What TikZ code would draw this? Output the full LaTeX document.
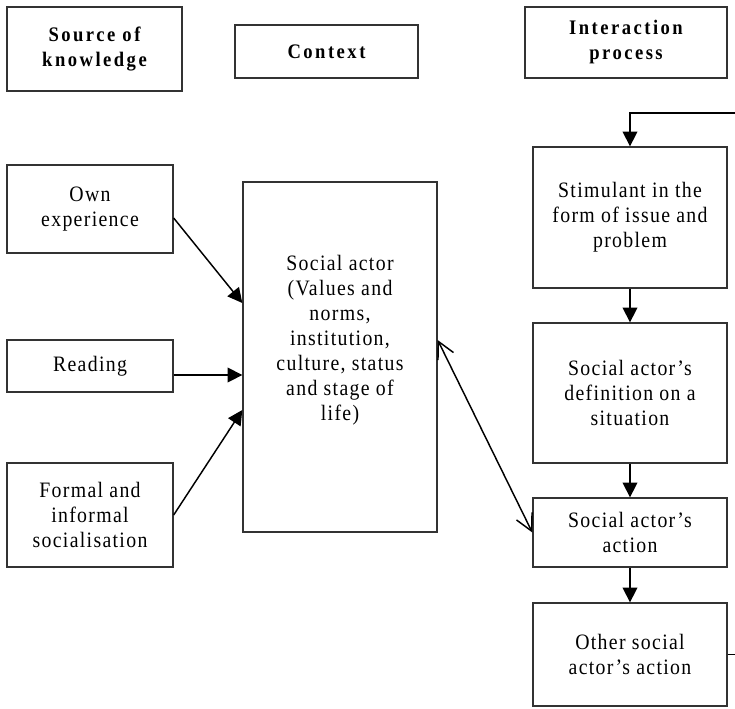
\documentclass[tikz,border=0pt]{standalone}
\usepackage{fontspec}
\setmainfont{Liberation Serif}[LetterSpace=6,FakeStretch=0.9]
\usetikzlibrary{arrows.meta}
\begin{document}
\begin{tikzpicture}[x=0.75pt,y=-0.75pt,line width=1pt]
	\tikzstyle{box}=[draw=black!80,line width=1pt,align=center,inner sep=0pt,font=\fontsize{16.5}{18.75}\selectfont]
	\tikzstyle{head}=[box,font=\fontsize{15.5}{18.75}\selectfont\bfseries\addfontfeature{LetterSpace=12}]
	\tikzstyle{txt}=[align=center,inner sep=0pt,font=\fontsize{16.5}{18.75}\selectfont]
	\tikzstyle{flow}=[draw=black,line width=1.1pt,-{Triangle[length=11pt,width=11pt]}]
	\tikzstyle{both}=[draw=black,line width=1.1pt,{Straight Barb[length=12.5pt,width=13pt]}-{Straight Barb[length=12.5pt,width=13pt]}]
	\useasboundingbox (0,0) rectangle (735,708);
	
	% headings
	\node[head,minimum width=131.25pt,minimum height=63pt] 	(src)	at (94.5,49)	{Source of\\knowledge};
	\node[head,minimum width=137.25pt,minimum height=39.75pt] 	(ctx)	at (326.5,51.5)	{Context};
	\node[head,minimum width=151.5pt,minimum height=53.25pt] 	(ipr)	at (626,42.5)	{Interaction\\process};
	
	% sources
	\node[box,minimum width=124.5pt,minimum height=66pt] 	(own)	at (90,209)	{Own\\experience};
	\node[box,minimum width=124.5pt,minimum height=39pt] 	(rdg)	at (90,366)	{Reading};
	\node[box,minimum width=124.5pt,minimum height=78pt] 	(fml)	at (90,515)	{Formal and\\informal\\socialisation};
	
	% context
	\node[box,minimum width=145.5pt,minimum height=262.5pt] 	(act)	at (340,357)	{};
	\node[txt] 	(act-text)	at (340,340)	{Social actor\\(Values and\\norms,\\institution,\\culture, status\\and stage of\\life)};
	
	% interaction process
	\node[box,minimum width=145.5pt,minimum height=105.75pt] 	(stm)	at (630,217.5)	{Stimulant in the\\form of issue and\\problem};
	\node[box,minimum width=145.5pt,minimum height=105pt] 	(dfn)	at (630,393)	{Social actor’s\\definition on a\\situation};
	\node[box,minimum width=145.5pt,minimum height=51.75pt] 	(sac)	at (630,532.5)	{Social actor’s\\action};
	\node[box,minimum width=145.5pt,minimum height=77.25pt] 	(oth)	at (630,654.5)	{Other social\\actor’s action};
	\coordinate 	(fb)	at (739,113);
	
	% arrows
	\draw[flow] ([yshift=-6.75pt]own.east) -- ([yshift=40.5pt]act.west);
	\draw[flow] ([yshift=-6.75pt]rdg.east) -- ([yshift=-13.5pt]act.west);
	\draw[flow] (fml.east) -- ([yshift=-39.75pt]act.west);
	\draw[flow] (stm.south) -- (dfn.north);
	\draw[flow] (dfn.south) -- (sac.north);
	\draw[flow] (sac.south) -- (oth.north);
	\draw[both] ([yshift=12.75pt]act.east) -- (sac.west);
	\draw[flow] (oth.east) -| (fb) -| (stm.north);
\end{tikzpicture}
\end{document}
